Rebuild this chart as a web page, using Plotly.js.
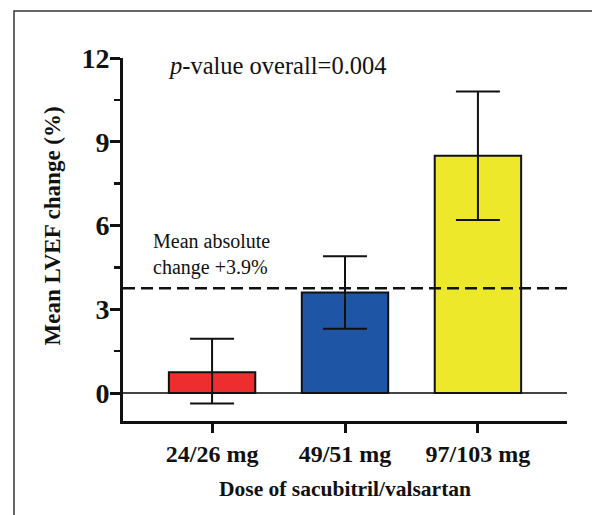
<!DOCTYPE html>
<html>
<head>
<meta charset="utf-8">
<script src="https://cdn.plot.ly/plotly-3.0.1.min.js"></script>
<style>html,body{margin:0;padding:0;background:#fff;}#chart{width:592px;height:515px;}</style>
</head>
<body>
<div id="chart"></div>
<script>
const categories = ["24/26 mg", "49/51 mg", "97/103 mg"];
const meanChange = [0.75, 3.6, 8.5];
const ciUpper = [1.95, 4.9, 10.8];
const ciLower = [-0.37, 2.3, 6.2];
const barColors = ["#EE2E2E", "#1F55A5", "#EDE82A"];
const meanAbsoluteChange = 3.75;
const yTickVals = [0, 3, 6, 9, 12];

const errPlus = meanChange.map((m, i) => ciUpper[i] - m);
const errMinus = meanChange.map((m, i) => m - ciLower[i]);

const serif = "Liberation Serif, Times New Roman, serif";

const barTrace = {
  type: "bar",
  x: categories,
  y: meanChange,
  width: 0.65,
  marker: { color: barColors, line: { color: "#111", width: 2 } },
  error_y: {
    type: "data",
    symmetric: false,
    array: errPlus,
    arrayminus: errMinus,
    color: "#111",
    thickness: 2,
    width: 22
  },
  hoverinfo: "skip"
};

const layout = {
  width: 592,
  height: 515,
  margin: { l: 123, r: 25, t: 58, b: 94 },
  paper_bgcolor: "#fff",
  plot_bgcolor: "#fff",
  showlegend: false,
  font: { family: serif, color: "#111" },
  xaxis: {
    type: "category",
    range: [-0.67, 2.67],
    showgrid: false,
    zeroline: false,
    showline: true,
    linecolor: "#111",
    linewidth: 3,
    ticks: "outside",
    ticklen: 9,
    tickwidth: 3,
    tickcolor: "#111",
    tickfont: { family: serif, size: 24, color: "#111", weight: "bold" },
    title: { text: "<b>Dose of sacubitril/valsartan</b>", font: { family: serif, size: 21.5, color: "#111" }, standoff: 16 },
    fixedrange: true
  },
  yaxis: {
    range: [-1, 12],
    tickvals: yTickVals,
    ticktext: yTickVals.map(String),
    showgrid: false,
    zeroline: true,
    zerolinecolor: "#444",
    zerolinewidth: 1.5,
    showline: true,
    linecolor: "#111",
    linewidth: 3,
    ticks: "outside",
    ticklen: 10,
    tickwidth: 3,
    tickcolor: "#111",
    ticklabelstandoff: -5,
    tickfont: { family: serif, size: 28, color: "#111", weight: "bold" },
    minor: { dtick: 1.5, tick0: 0, ticks: "outside", ticklen: 6, tickwidth: 2.5, tickcolor: "#111", showgrid: false },
    fixedrange: true
  },
  annotations: [
    {
      xref: "paper", yref: "paper",
      x: (52 - 123) / 444, y: (421 - 226.5) / 363, xanchor: "center", yanchor: "middle",
      text: "<b>Mean LVEF change (%)</b>",
      textangle: -90,
      showarrow: false,
      font: { family: serif, size: 23, color: "#111" }
    },
    {
      xref: "paper", yref: "paper",
      x: 0.097, y: 0.978, xanchor: "left", yanchor: "middle",
      text: "<i>p</i>-value overall=0.004",
      showarrow: false,
      font: { family: serif, size: 24.5, color: "#111" }
    },
    {
      xref: "paper", yref: "paper",
      x: 0.063, y: 0.385, xanchor: "left", yanchor: "bottom",
      text: "Mean absolute<br>change +3.9%",
      align: "left",
      showarrow: false,
      font: { family: serif, size: 20, color: "#111" }
    }
  ],
  shapes: [
    {
      type: "line", xref: "paper", yref: "y",
      x0: 0, x1: 1, y0: meanAbsoluteChange, y1: meanAbsoluteChange,
      line: { color: "#111", width: 2.5, dash: "12px,6px" },
      layer: "above"
    },
    {
      type: "path", xref: "paper", yref: "paper",
      path: "M -0.2455,-0.27 L -0.2455,1.1296 L 1.06,1.1296",
      line: { color: "#333", width: 1.5 }
    }
  ]
};

Plotly.newPlot("chart", [barTrace], layout, { displayModeBar: false, staticPlot: true });
</script>
</body>
</html>
